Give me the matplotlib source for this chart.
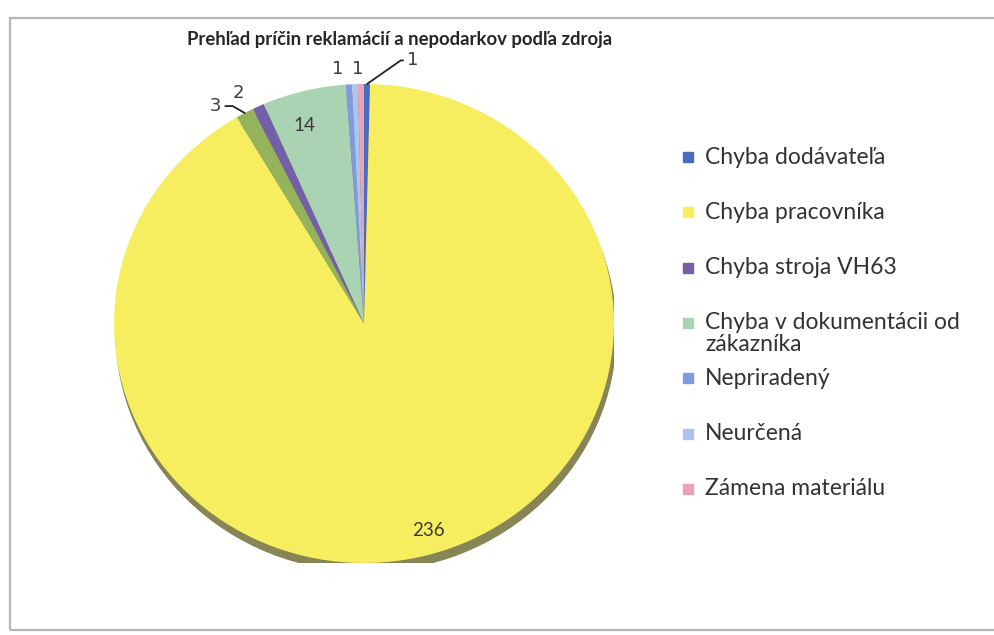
import numpy as np
import matplotlib.pyplot as plt
from matplotlib.patches import Rectangle, Ellipse

# data, clockwise from 12 o'clock
categories = ["Chyba dodávateľa", "Chyba pracovníka", "", "Chyba stroja VH63",
              "Chyba v dokumentácii od\nzákazníka", "Nepriradený", "Neurčená",
              "Zámena materiálu"]
values = [1, 236, 3, 2, 14, 1, 1, 1]
colors = ["#4a6cc0", "#f6ee5e", "#94b35a", "#7460a8", "#a9d3b2",
          "#7f9be0", "#b0c2f0", "#e9a3b4"]

# label style per slice: (show, mode, dx, dy, leader angle) -- offsets in points
label_style = [
    (True, "leader", 29, 17, 35),
    (True, "inside", 7, -4, 0),
    (True, "leader", -17, 5, 150),
    (True, "outside", -14, 10, 0),
    (True, "inside", -5, -3, 0),
    (True, "outside", -8, 11, 0),
    (True, "outside", 2, 11, 0),
    (False, None, 0, 0, 0),
]

TITLE = "Prehľad príčin reklamácií a nepodarkov podľa zdroja"
FONT = "Lato"

fig = plt.figure(figsize=(9.94, 6.35), dpi=100)
fig.patch.set_facecolor("white")

# chart frame (right edge runs off the scan)
fig.patches.append(Rectangle((10 / 994, 5 / 635), 1.2, 612 / 635, transform=fig.transFigure,
                             fill=False, edgecolor="#b4b4bc", linewidth=1.6))

ax = fig.add_axes([114 / 994, 72 / 635, 500 / 994, 479 / 635])
ax.axis("off")

# drop shadow under the pie
ax.add_patch(Ellipse((0.008, -0.034), 2.0, 2.0, color="#878555", zorder=0))

wedges, _ = ax.pie(values, colors=colors, startangle=90, counterclock=False,
                   radius=1.0, wedgeprops=dict(linewidth=0))
ax.set_aspect("auto")
ax.set_xlim(-1, 1)
ax.set_ylim(-1, 1)

for w, v, st in zip(wedges, values, label_style):
    show, mode, dx, dy, la = st
    if not show:
        continue
    ang = np.deg2rad((w.theta1 + w.theta2) / 2)
    ca, sa = np.cos(ang), np.sin(ang)
    if mode == "inside":
        ax.annotate(str(v), xy=(0.87 * ca, 0.87 * sa), xytext=(dx, dy),
                    textcoords="offset points", ha="center", va="center",
                    fontsize=13.5, family=FONT, color="#3a3a3a")
    elif mode == "outside":
        ax.annotate(str(v), xy=(ca, sa), xytext=(dx, dy), textcoords="offset points",
                    ha="center", va="center", fontsize=13, family="DejaVu Sans",
                    color="#3a3a3a")
    else:
        ax.annotate(str(v), xy=(ca, sa), xytext=(dx, dy), textcoords="offset points",
                    ha="left" if dx > 0 else "right", va="center", fontsize=13,
                    family="DejaVu Sans", color="#3a3a3a",
                    arrowprops=dict(arrowstyle="-", color="#222222", lw=1.3,
                                    shrinkA=1, shrinkB=0,
                                    connectionstyle="angle,angleA=0,angleB=%d,rad=0" % la))

fig.text(400 / 994, 1 - 39 / 635, TITLE, ha="center", va="center",
         fontsize=13.3, fontweight="bold", family=FONT, color="#262626")

# legend drawn Excel-style: fixed slots, wrapped text runs down into the gap
W, H = 994, 635
slot_top, slot_step, box = 157, 55.3, 10
i = 0
for c, n in zip(colors, categories):
    if not n:
        continue
    yc = slot_top + i * slot_step
    fig.patches.append(Rectangle((683 / W, 1 - (yc + box / 2) / H), box / W, box / H,
                                 transform=fig.transFigure, color=c))
    fig.text(705 / W, 1 - (yc - 10.5) / H, n, ha="left", va="top", fontsize=16.5,
             family=FONT, color="#333333", linespacing=1.05)
    i += 1

fig.savefig("out.png", dpi=100, facecolor="white")
